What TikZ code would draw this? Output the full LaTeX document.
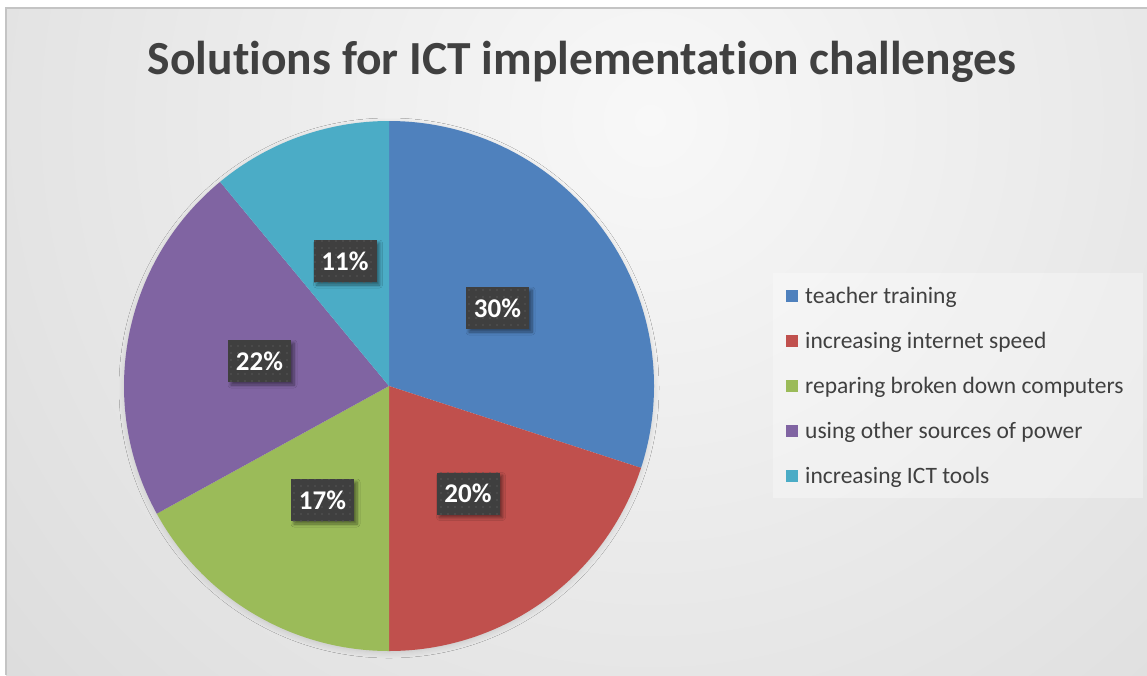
\documentclass[tikz,border=0pt]{standalone}
\usepackage{fontspec}
\setmainfont{Carlito}[Ligatures={NoCommon}]
\usetikzlibrary{shadows.blur,patterns.meta}
\definecolor{cblue}{HTML}{4F81BD}
\definecolor{cred}{HTML}{C0504D}
\definecolor{cgreen}{HTML}{9BBB59}
\definecolor{cpurple}{HTML}{8064A2}
\definecolor{ccyan}{HTML}{4BACC6}
\definecolor{txt}{HTML}{404040}
\definecolor{lblbg}{HTML}{3F3F3F}
\definecolor{lbldot}{HTML}{565656}
\definecolor{bgin}{HTML}{F8F8F8}
\definecolor{bgout}{HTML}{C8C8C8}
\definecolor{frame}{HTML}{C4C4C4}
\tikzset{
  lbl/.style={minimum width=63pt, minimum height=42pt, inner sep=0pt, fill=lblbg,
    blur shadow={shadow xshift=3pt, shadow yshift=-3pt, shadow blur steps=6, shadow blur radius=3pt, shadow opacity=45},
    postaction={pattern={Dots[distance=7pt,radius=0.8pt]}, pattern color=lbldot},
    text=white, font=\bfseries\fontsize{27}{27}\selectfont},
  legsq/.style={minimum size=12pt, inner sep=0pt, anchor=center},
  legtxt/.style={anchor=base west, inner sep=0pt, text=txt, font=\fontsize{23.5}{26}\selectfont}
}
\begin{document}
\begin{tikzpicture}[x=1pt,y=-1pt]
\useasboundingbox (0,0) rectangle (1147,675);
\fill[white] (0,0) rectangle (1147,675);
% chart background
\begin{scope}
  \clip (6,8) rectangle (1147,675);
  \fill[bgout] (6,8) rectangle (1147,675);
  \shade[inner color=bgin, outer color=bgout] (650,120) circle (1500pt);
\end{scope}
\draw[frame, line width=1.2pt] (6,675) -- (6,8) -- (1147,8);
% title
\node[anchor=base, text=txt, font=\bfseries\fontsize{47.5}{50}\selectfont, inner sep=0pt] (title) at (582,74) {Solutions for ICT implementation challenges};
% pie
\begin{scope}[shift={(389,386)}]
  \fill[bgin, blur shadow={shadow xshift=0pt, shadow yshift=-2pt, shadow blur steps=12, shadow blur radius=12pt, shadow opacity=30}] (0,0) circle (258pt);
  \fill[cblue] (0,0) -- (90:265pt) arc[start angle=90, end angle=-18, radius=265pt] -- cycle;
  \fill[cred] (0,0) -- (-18:265pt) arc[start angle=-18, end angle=-90, radius=265pt] -- cycle;
  \fill[cgreen] (0,0) -- (-90:265pt) arc[start angle=-90, end angle=-151.2, radius=265pt] -- cycle;
  \fill[cpurple] (0,0) -- (-151.2:265pt) arc[start angle=-151.2, end angle=-230.4, radius=265pt] -- cycle;
  \fill[ccyan] (0,0) -- (-230.4:265pt) arc[start angle=-230.4, end angle=-270, radius=265pt] -- cycle;
\end{scope}
% data labels
\node[lbl] (l30) at (497.5,308) {30\%};
\node[lbl] (l20) at (468,493.5) {20\%};
\node[lbl] (l17) at (322.5,500) {17\%};
\node[lbl] (l22) at (259.5,361) {22\%};
\node[lbl] (l11) at (345,261) {11\%};
% legend
\fill[white, opacity=0.3] (773,273) rectangle (1143,498);
\node[legsq, fill=cblue] (s1) at (792,295.5) {};
\node[legsq, fill=cred] (s2) at (792,340.5) {};
\node[legsq, fill=cgreen] (s3) at (792,385.5) {};
\node[legsq, fill=cpurple] (s4) at (792,430.5) {};
\node[legsq, fill=ccyan] (s5) at (792,475.5) {};
\node[legtxt] (t1) at (805,303) {teacher training};
\node[legtxt] (t2) at (805,348) {increasing internet speed};
\node[legtxt] (t3) at (805,393) {reparing broken down computers};
\node[legtxt] (t4) at (805,438) {using other sources of power};
\node[legtxt] (t5) at (805,483) {increasing ICT tools};
\end{tikzpicture}
\end{document}
